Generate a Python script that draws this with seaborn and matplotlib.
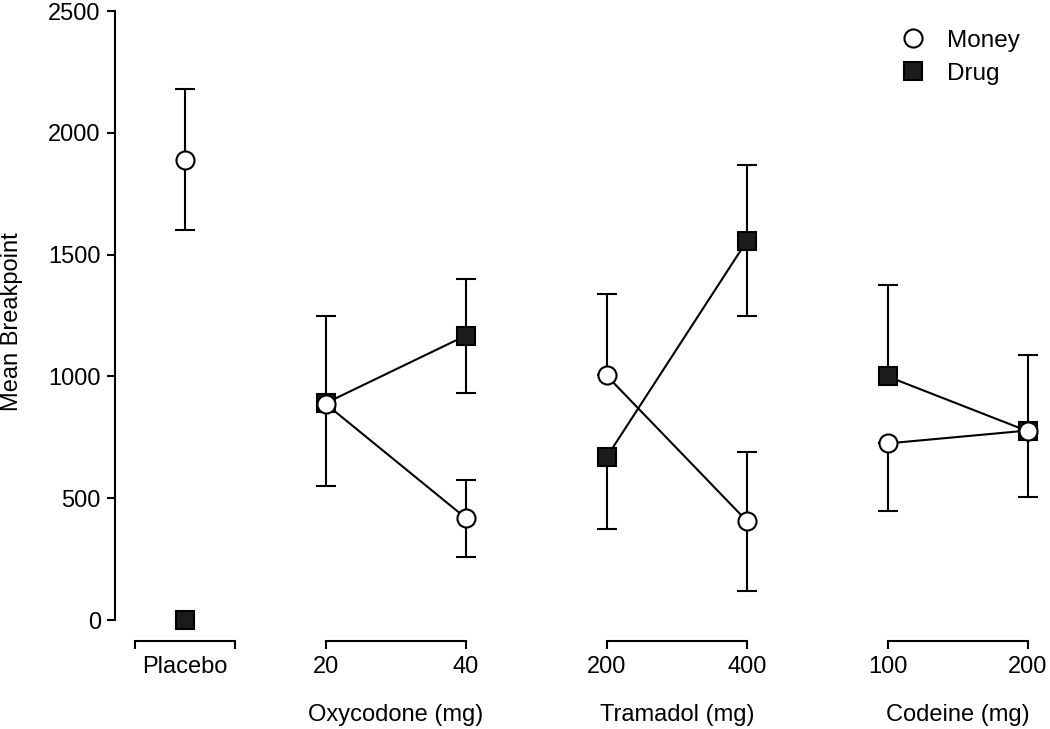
import matplotlib
matplotlib.use("Agg")
import numpy as np
import pandas as pd
import matplotlib.pyplot as plt
import seaborn as sns
from matplotlib.lines import Line2D

# x categories (one slot per dose, in drawing order)
DOSE_LABELS = ["Placebo", "20", "40", "200", "400", "100", "200"]
DOSE_GROUP = ["Placebo", "Oxycodone (mg)", "Oxycodone (mg)",
              "Tramadol (mg)", "Tramadol (mg)", "Codeine (mg)", "Codeine (mg)"]
GROUPS = ["Placebo", "Oxycodone (mg)", "Tramadol (mg)", "Codeine (mg)"]

# mean breakpoints with upper / lower error lengths (0 = not drawn)
MONEY_MEAN = [1890, 888, 418, 1004, 406, 725, 778]
MONEY_UP = [290, 362, 156, 336, 283, 0, 308]
MONEY_LO = [290, 0, 160, 0, 287, 278, 0]

DRUG_MEAN = [0, 890, 1168, 668, 1557, 1000, 775]
DRUG_UP = [0, 0, 230, 0, 312, 377, 0]
DRUG_LO = [0, 341, 234, 295, 311, 0, 271]

Y_TICKS = [0, 500, 1000, 1500, 2000, 2500]

STYLE = {
    "Drug": dict(marker="s", markerfacecolor="#1c1c1c", zorder=3),
    "Money": dict(marker="o", markerfacecolor="white", zorder=4),
}
FS = 17


def build_frame():
    rows = []
    for measure, mean, up, lo in [("Drug", DRUG_MEAN, DRUG_UP, DRUG_LO),
                                  ("Money", MONEY_MEAN, MONEY_UP, MONEY_LO)]:
        for i in range(len(DOSE_LABELS)):
            rows.append({"pos": i, "dose": DOSE_LABELS[i], "group": DOSE_GROUP[i],
                         "measure": measure, "mean": mean[i],
                         "up": up[i], "lo": lo[i]})
    return pd.DataFrame(rows)


def main():
    sns.set_theme(style="ticks")
    plt.rcParams["font.family"] = ["Liberation Sans", "DejaVu Sans"]
    for key in ["text.color", "axes.labelcolor", "xtick.color", "ytick.color",
                "axes.edgecolor"]:
        plt.rcParams[key] = "black"
    df = build_frame()

    fig = plt.figure(figsize=(10.5, 7.29), dpi=100)
    W, H = 1050, 729
    unit = 140.5          # px between neighbouring doses
    x0 = 185              # px of first slot
    top_px, bot_px = 11, 641
    ylo, yhi = -86, 2500
    xlims = {"Placebo": (-0.5, 0.5), "Oxycodone (mg)": (0.5, 2.5),
             "Tramadol (mg)": (2.5, 4.5), "Codeine (mg)": (4.5, 6.15)}

    axes = []
    for g in GROUPS:
        lo_x, hi_x = xlims[g]
        rect = [(x0 + lo_x * unit) / W, (H - bot_px) / H,
                (hi_x - lo_x) * unit / W, (bot_px - top_px) / H]
        ax = fig.add_axes(rect, sharey=axes[0] if axes else None)
        ax.set_xlim(lo_x, hi_x)
        ax.set_facecolor("none")
        axes.append(ax)

    for ax, g in zip(axes, GROUPS):
        sub = df[df["group"] == g]
        for measure in ["Drug", "Money"]:
            s = sub[sub["measure"] == measure]
            e = s[(s["up"] + s["lo"]) > 0]
            if len(e):
                ax.errorbar(e["pos"], e["mean"], yerr=[e["lo"], e["up"]],
                            fmt="none", ecolor="black", elinewidth=1.5,
                            capsize=7, capthick=1.5, zorder=2, clip_on=False)
            st = STYLE[measure]
            sns.lineplot(data=s, x="pos", y="mean", ax=ax, color="black",
                         linewidth=1.5, marker=st["marker"], markersize=13,
                         markerfacecolor=st["markerfacecolor"],
                         markeredgecolor="black", markeredgewidth=1.5,
                         errorbar=None, legend=False, zorder=st["zorder"],
                         clip_on=False)

        ax.spines["top"].set_visible(False)
        ax.spines["right"].set_visible(False)
        ax.spines["bottom"].set_linewidth(1.5)
        ax.tick_params(axis="x", length=6, width=1.5, labelsize=FS, pad=5)
        ax.set_ylabel("")
        ax.set_xlabel("")

        doses = sub["pos"].unique()
        if g == "Placebo":
            half = 0.355
            ax.spines["bottom"].set_bounds(-half, half)
            ax.set_xticks([-half, half], labels=["", ""])
            ax.set_xticks([0], labels=["Placebo"], minor=True)
            ax.tick_params(axis="x", which="minor", length=0, pad=11, labelsize=FS)
        else:
            ax.spines["bottom"].set_bounds(doses.min(), doses.max())
            ax.set_xticks(doses, labels=sub.drop_duplicates("pos")["dose"])
            lo_x, hi_x = xlims[g]
            mid = (doses.mean() - lo_x) / (hi_x - lo_x)
            ax.set_xlabel(g, fontsize=FS)
            ax.xaxis.set_label_coords(mid, -(704 - bot_px) / (bot_px - top_px))

        if ax is axes[0]:
            ax.set_ylim(ylo, yhi)
            ax.set_yticks(Y_TICKS)
            ax.spines["left"].set_bounds(0, 2500)
            ax.spines["left"].set_linewidth(1.5)
            ax.tick_params(axis="y", length=6, width=1.5, labelsize=FS, pad=4)
            ax.set_ylabel("Mean Breakpoint", fontsize=FS, va="center")
            ax.yaxis.set_label_coords(-(115 - 12) / unit,
                                      (bot_px - 322) / (bot_px - top_px))
        else:
            ax.spines["left"].set_visible(False)
            ax.tick_params(axis="y", left=False, labelleft=False)

    handles = [
        Line2D([], [], linestyle="none", marker="o", markersize=13,
               markerfacecolor="white", markeredgecolor="black", markeredgewidth=1.5),
        Line2D([], [], linestyle="none", marker="s", markersize=13,
               markerfacecolor="#1c1c1c", markeredgecolor="black", markeredgewidth=1.5),
    ]
    fig.legend(handles, ["Money", "Drug"], loc="upper left",
               bbox_to_anchor=(877 / W, 1 - 8 / H), frameon=False, fontsize=17.5,
               handlelength=1.2, handletextpad=0.8, labelspacing=0.45)

    fig.savefig("out.png", dpi=100)
    plt.close(fig)


if __name__ == "__main__":
    main()
